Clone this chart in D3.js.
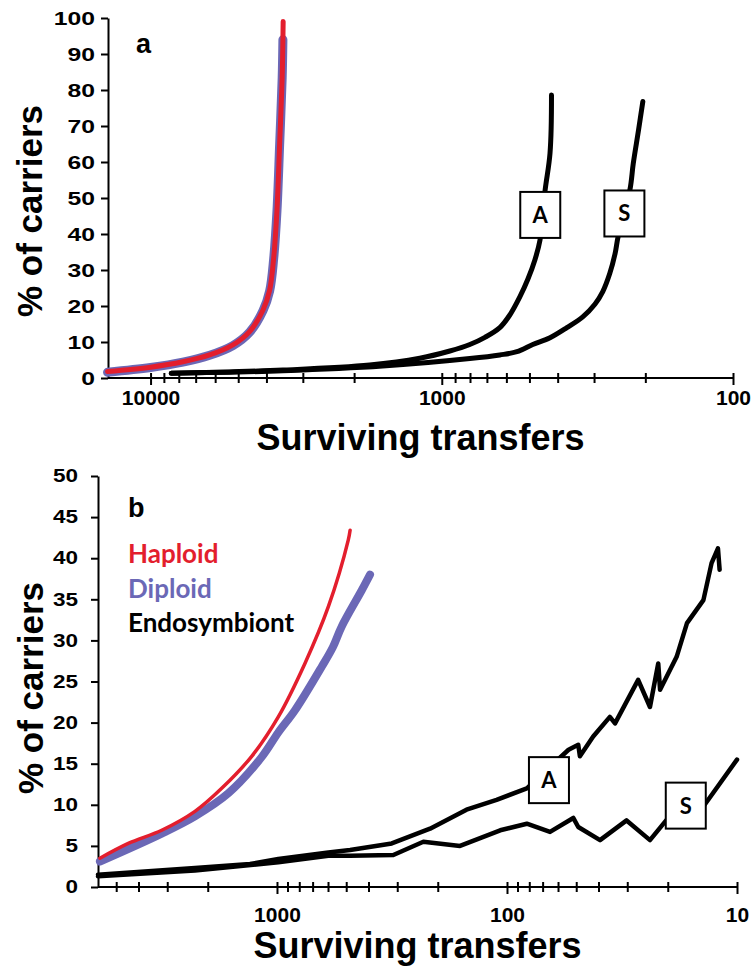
<!DOCTYPE html>
<html>
<head>
<meta charset="utf-8">
<title>Surviving transfers</title>
<script src="https://cdn.jsdelivr.net/npm/d3@7"></script>
<style>
body { margin: 0; background: #fff; }
svg text { font-family: 'Liberation Sans', Arial, sans-serif; font-weight: bold; }
</style>
</head>
<body>
<div id="chart"></div>
<script>
// panel a : [surviving transfers, % of carriers]
var haploidA = [[14050,1.8],[10000,3.0],[7745,4.5],[6270,6.4],[5215,9.2],[4570,12.9],[4110,18.9],[3900,24.4],[3778,33.3],[3680,46.7],[3603,65.3],[3532,83.6],[3505,99]];
var diploidA = [[14050,1.6],[10000,2.9],[7745,4.4],[6270,6.3],[5215,9.0],[4570,12.7],[4110,18.7],[3900,24.2],[3778,33.1],[3680,46.5],[3603,65.0],[3532,83.4],[3512,94]];
var asexA = [[8490,1.3],[5350,1.7],[3510,2.2],[1768,3.6],[1190,5.5],[938,7.5],[801,9.3],[711,11.3],[632,14.0],[584,17.5],[539,22.6],[506,27.5],[479,32.8],[460,38.3],[442,52],[425,62.4],[420,78.6]];
var sexA = [[8490,1.3],[3510,2.0],[1596,3.3],[801,5.4],[632,6.4],[552,7.3],[487,9.3],[425,11.2],[372,14.0],[328,17.0],[298,20.5],[280,24],[265,29],[254,34.6],[248,39.3],[226,52.2],[220,59.6],[211,68.9],[204,76.8]];

// panel b
var haploidB = [[5885,3.5],[4431,5.3],[3171,6.9],[2273,9.2],[1739,12.0],[1288,15.9],[987,20.7],[756,27.2],[598,34.1],[490,42.2],[481,43.4]];
var diploidB = [[5885,3.1],[3171,6.5],[2273,8.6],[1628,11.4],[1166,15.8],[987,18.8],[835,21.5],[639,26.8],[571,29.2],[523,31.7],[428,36.1],[394,38.0]];
var asexB = [[6000,1.5],[2273,2.3],[1310,2.8],[987,3.4],[598,4.2],[481,4.5],[317,5.3],[216,7.1],[150,9.4],[111,10.6],[82,12.0],[54,16.7],[49,17.3],[48.2,15.9],[42.2,18.3],[35.7,20.7],[33.9,19.9],[26.9,25.2],[23.9,21.9],[22.0,27.2],[21.6,24.0],[18.3,28.0],[16.5,32.1],[14.0,34.9],[12.9,39.4],[12.1,41.2],[11.9,38.6]];
var sexB = [[6000,1.3],[2273,2.0],[987,3.0],[598,3.8],[481,3.8],[312,3.9],[231,5.5],[160,5.0],[107,6.9],[82,7.7],[65,6.7],[51.5,8.4],[49,7.3],[39.4,5.7],[30.2,8.1],[23.9,5.7],[20.2,8.2],[14.0,9.8],[10.0,15.5]];

// ticks
var yTicksA = [0,10,20,30,40,50,60,70,80,90,100];
var yTicksB = [0,5,10,15,20,25,30,35,40,45,50];
var xMajorA = [10000,1000,100];
var xMinorA = [9000,8000,7000,6000,5000,4000,3000,2000,900,800,700,600,500,400,300,200];
var xMajorB = [1000,100,10];
var xMinorB = [5000,4000,3000,2000,900,800,700,600,500,400,300,200,90,80,70,60,50,40,30,20];

// box labels [text, transfers, %]
var boxesA = [["A",459,45.3],["S",236,45.7]];
var boxesB = [["A",65.7,13.0],["S",16.7,9.9]];

var legendNames = ["Haploid","Diploid","Endosymbiont"];
var legendColors = ["#e31e2d","#6b68b6","#000"];

var red = "#e31e2d", blue = "#6b68b6";

var svg = d3.select("#chart").append("svg").attr("width", 753).attr("height", 972);

function drawPanel(p) {
  var x = d3.scaleLog().domain(p.xDomain).range([p.left, p.right]);
  var y = d3.scaleLinear().domain(p.yDomain).range([p.bottom, p.top]);
  var g = svg.append("g");

  var allX = p.xMajor.concat(p.xMinor);
  var xAxis = g.append("g")
    .attr("transform", "translate(0," + p.bottom + ")")
    .call(d3.axisBottom(x).tickValues(allX).tickSize(0)
      .tickFormat(function (d) { return p.xMajor.indexOf(d) >= 0 ? d : ""; }));
  xAxis.select(".domain").attr("stroke-width", 2).attr("d", "M" + p.left + ",0H" + p.right);
  xAxis.selectAll(".tick line")
    .attr("y1", -5)
    .attr("y2", function (d) { return p.xMajor.indexOf(d) >= 0 ? 7 : 5; })
    .attr("stroke-width", 2);
  xAxis.selectAll(".tick text")
    .attr("dy", null).attr("y", p.xLabelY)
    .style("font-size", "21px").attr("fill", "#000");

  var yAxis = g.append("g")
    .attr("transform", "translate(" + p.left + ",0)")
    .call(d3.axisLeft(y).tickValues(p.yTicks).tickSize(7).tickSizeOuter(0));
  yAxis.select(".domain").attr("stroke-width", 2);
  yAxis.selectAll(".tick line").attr("stroke-width", 2);
  yAxis.selectAll(".tick text")
    .attr("x", p.yLabelX)
    .attr("transform", "scale(" + p.yScaleX + ",1)")
    .style("font-size", p.yFont + "px").attr("fill", "#000");

  var line = d3.line().x(function (d) { return x(d[0]); }).y(function (d) { return y(d[1]); });

  p.series.forEach(function (s) {
    g.append("path")
      .datum(s.data)
      .attr("fill", "none")
      .attr("stroke", s.color)
      .attr("stroke-width", s.width)
      .attr("stroke-linecap", "round")
      .attr("stroke-linejoin", "round")
      .attr("d", line.curve(s.smooth ? d3.curveCatmullRom.alpha(0.5) : d3.curveLinear));
  });

  p.boxes.forEach(function (b) {
    var cx = x(b[1]), cy = y(b[2]);
    g.append("rect")
      .attr("x", cx - 20).attr("y", cy - 23)
      .attr("width", 40).attr("height", 46)
      .attr("fill", "#fff").attr("stroke", "#000").attr("stroke-width", 2);
    g.append("text")
      .attr("x", cx).attr("y", cy + 8)
      .attr("text-anchor", "middle")
      .style("font-family", "Lato, 'Open Sans', sans-serif")
      .style("font-size", "22px")
      .text(b[0]);
  });

  g.append("text")
    .attr("x", p.letter[1]).attr("y", p.letter[2])
    .style("font-size", "27px")
    .text(p.letter[0]);

  g.append("text")
    .attr("x", (p.left + p.right) / 2).attr("y", p.titleY)
    .attr("text-anchor", "middle")
    .style("font-size", "36px")
    .text("Surviving transfers");

  g.append("text")
    .attr("transform", "translate(" + p.yTitleX + "," + p.yTitleY + ") rotate(-90)")
    .attr("text-anchor", "middle")
    .style("font-size", "35px")
    .text("% of carriers");
}

drawPanel({
  xDomain: [14000, 100], yDomain: [0, 100],
  left: 108, right: 733, top: 18, bottom: 378,
  xMajor: xMajorA, xMinor: xMinorA, xLabelY: 27,
  yTicks: yTicksA, yLabelX: -10, yScaleX: 1.3, yFont: 19,
  series: [
    {data: asexA, color: "#000", width: 5, smooth: true},
    {data: sexA, color: "#000", width: 5, smooth: true},
    {data: diploidA, color: blue, width: 9, smooth: true},
    {data: haploidA, color: red, width: 5, smooth: true}
  ],
  boxes: boxesA,
  letter: ["a", 136, 53],
  titleY: 450, yTitleX: 42, yTitleY: 211
});

drawPanel({
  xDomain: [6000, 10], yDomain: [0, 50],
  left: 98, right: 737, top: 476, bottom: 887,
  xMajor: xMajorB, xMinor: xMinorB, xLabelY: 35,
  yTicks: yTicksB, yLabelX: -16, yScaleX: 1.25, yFont: 18,
  series: [
    {data: asexB, color: "#000", width: 4.5, smooth: false},
    {data: sexB, color: "#000", width: 4.5, smooth: false},
    {data: diploidB, color: blue, width: 8, smooth: true},
    {data: haploidB, color: red, width: 3.5, smooth: true}
  ],
  boxes: boxesB,
  letter: ["b", 128, 517],
  titleY: 958, yTitleX: 43, yTitleY: 688
});

// legend of panel b
svg.append("g").selectAll("text")
  .data(legendNames)
  .enter()
  .append("text")
    .attr("x", 128)
    .attr("y", function (d, i) { return 563 + i * 34.5; })
    .style("font-family", "Lato, 'Open Sans', sans-serif")
    .style("font-size", "26px")
    .attr("fill", function (d, i) { return legendColors[i]; })
    .text(function (d) { return d; });
</script>
</body>
</html>
